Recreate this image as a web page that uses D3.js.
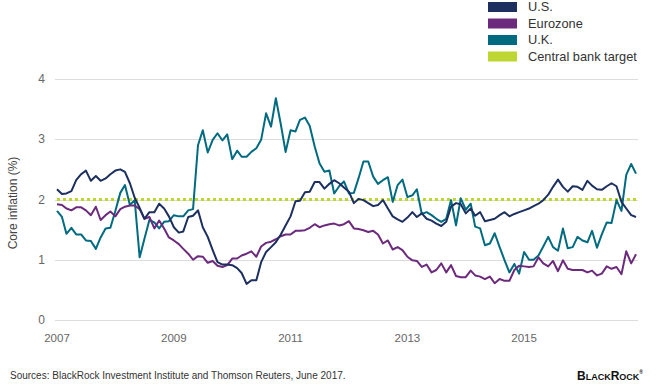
<!DOCTYPE html>
<meta charset="utf-8">
<style>
body { margin: 0; background: #fff; }
svg { font-family: "Liberation Sans", Arial, sans-serif; }
.grid line { stroke: #dcdcdc; stroke-width: 1px; }
.series { fill: none; stroke-width: 2px; stroke-linejoin: round; }
</style>
<body>
<script src="https://cdn.jsdelivr.net/npm/d3@7"></script>
<script>

// monthly core inflation, Jan 2007 - Dec 2016
var usValues = [2.17,2.09,2.1,2.14,2.32,2.42,2.48,2.31,2.39,2.31,2.35,2.42,2.48,2.5,2.46,2.27,2.03,1.86,1.68,1.79,
  1.79,1.93,1.85,1.72,1.54,1.45,1.47,1.71,1.73,1.82,1.54,1.38,1.16,0.96,0.92,0.92,0.91,0.86,0.78,0.6,
  0.66,0.66,0.96,1.13,1.21,1.29,1.42,1.57,1.72,1.97,1.98,2.12,2.13,2.29,2.29,2.18,2.26,2.32,2.27,2.2,
  2.13,1.94,2.01,1.99,1.94,1.89,1.91,1.99,1.85,1.72,1.67,1.63,1.7,1.79,1.71,1.77,1.68,1.65,1.6,1.56,
  1.63,1.88,1.94,1.92,1.77,1.85,1.73,1.79,1.64,1.66,1.68,1.74,1.79,1.72,1.76,1.79,1.82,1.85,1.89,1.93,
  1.99,2.08,2.21,2.33,2.21,2.13,2.22,2.21,2.16,2.31,2.23,2.17,2.16,2.22,2.27,2.22,1.96,1.85,1.74,1.71];

var euroValues = [1.92,1.91,1.85,1.82,1.87,1.87,1.82,1.74,1.88,1.66,1.74,1.8,1.72,1.84,1.88,1.9,1.9,1.84,1.68,1.71,
  1.52,1.65,1.52,1.37,1.32,1.26,1.18,1.1,1.0,1.06,1.05,0.95,0.98,0.9,0.88,0.91,1.02,1.02,1.07,1.1,
  1.14,1.05,1.22,1.28,1.3,1.34,1.39,1.42,1.42,1.48,1.48,1.49,1.53,1.59,1.54,1.57,1.59,1.6,1.57,1.59,
  1.64,1.52,1.51,1.49,1.46,1.48,1.42,1.27,1.32,1.17,1.21,1.16,1.05,0.99,0.98,0.88,0.92,0.79,0.83,0.94,
  0.79,0.91,0.73,0.71,0.71,0.82,0.74,0.72,0.68,0.72,0.61,0.68,0.65,0.65,0.83,0.9,0.89,0.88,0.89,1.04,
  0.94,0.89,0.98,0.81,0.99,0.85,0.83,0.83,0.83,0.79,0.82,0.74,0.77,0.89,0.85,0.88,0.76,1.14,0.94,1.09];

var ukValues = [1.81,1.71,1.43,1.53,1.42,1.42,1.32,1.31,1.18,1.37,1.52,1.53,1.81,2.11,2.24,1.91,1.99,1.04,1.35,1.66,
  1.62,1.52,1.63,1.64,1.74,1.72,1.72,1.82,1.84,2.9,3.15,2.78,2.99,3.1,2.98,3.08,2.67,2.81,2.71,2.71,
  2.79,2.85,2.99,3.43,3.21,3.68,3.25,2.79,3.15,3.13,3.32,3.36,3.22,2.88,2.6,2.46,2.48,2.1,2.22,2.3,
  2.1,2.11,2.35,2.63,2.63,2.38,2.26,2.32,2.37,1.96,2.24,2.33,2.04,2.07,2.17,1.76,1.79,1.74,1.68,1.63,
  1.68,1.99,1.57,2.02,1.83,1.93,1.55,1.52,1.24,1.27,1.44,1.21,0.99,0.79,0.93,0.77,1.13,1.0,1.0,1.07,
  1.22,1.38,1.21,1.15,1.52,1.19,1.21,1.38,1.32,1.29,1.48,1.2,1.42,1.62,1.61,1.99,1.81,2.41,2.59,2.43];

var targetValue = 2;
var yTicks = [0, 1, 2, 3, 4];
var xTickYears = [2007, 2009, 2011, 2013, 2015];

var seriesNames = ["U.S.", "Eurozone", "U.K."];
var seriesColors = ["#1c2f5e", "#6c2a7c", "#006b80"];
var targetName = "Central bank target";
var targetColor = "#bdd631";

var months = d3.timeMonths(new Date(2007, 0, 1), new Date(2017, 0, 1));

var width = 662, height = 385;

var svg = d3.select("body").append("svg")
    .attr("width", width)
    .attr("height", height);

var x = d3.scaleTime()
    .domain([months[0], months[months.length - 1]])
    .range([57, 636]);

var y = d3.scaleLinear()
    .domain([0, 4])
    .range([320, 79]);

// gridlines
svg.append("g")
    .attr("class", "grid")
  .selectAll("line")
  .data(yTicks)
  .enter().append("line")
    .attr("x1", 55)
    .attr("x2", 638)
    .attr("y1", function(d) { return Math.round(y(d)) + 0.5; })
    .attr("y2", function(d) { return Math.round(y(d)) + 0.5; });

// y tick labels
svg.append("g")
  .selectAll("text")
  .data(yTicks)
  .enter().append("text")
    .attr("x", 45)
    .attr("y", function(d) { return y(d); })
    .attr("dy", "0.35em")
    .attr("text-anchor", "end")
    .attr("fill", "#666")
    .style("font-size", "12px")
    .text(function(d) { return d; });

// x tick labels
svg.append("g")
  .selectAll("text")
  .data(xTickYears)
  .enter().append("text")
    .attr("x", function(d) { return x(new Date(d, 0, 1)); })
    .attr("y", 342)
    .attr("text-anchor", "middle")
    .attr("fill", "#666")
    .style("font-size", "11.5px")
    .text(function(d) { return d; });

// y axis title
svg.append("text")
    .attr("transform", "translate(17,203) rotate(-90)")
    .attr("text-anchor", "middle")
    .attr("fill", "#444")
    .style("font-size", "12px")
    .text("Core inflation (%)");

// target line
svg.append("line")
    .attr("x1", 57)
    .attr("x2", 638)
    .attr("y1", y(targetValue))
    .attr("y2", y(targetValue))
    .attr("stroke", targetColor)
    .attr("stroke-width", 3)
    .attr("stroke-dasharray", "3 3");

var line = d3.line()
    .x(function(d, i) { return x(months[i]); })
    .y(function(d) { return y(d); });

var allSeries = [usValues, euroValues, ukValues];

// draw U.K. under U.S. like the original
[2, 1, 0].forEach(function(k) {
  svg.append("path")
      .datum(allSeries[k])
      .attr("class", "series")
      .attr("stroke", seriesColors[k])
      .attr("d", line);
});

// legend
var legendItems = seriesNames.concat([targetName]);
var legendColors = seriesColors.concat([targetColor]);

var legend = svg.append("g")
  .selectAll("g")
  .data(legendItems)
  .enter().append("g")
    .attr("transform", function(d, i) { return "translate(488," + (2 + i * 16.5) + ")"; });

legend.append("rect")
    .attr("width", 29)
    .attr("height", 10)
    .attr("fill", function(d, i) { return legendColors[i]; });

legend.append("text")
    .attr("x", 40)
    .attr("y", 5)
    .attr("dy", "0.35em")
    .attr("fill", "#333")
    .style("font-size", "12.8px")
    .text(function(d) { return d; });

// source note
svg.append("text")
    .attr("x", 10)
    .attr("y", 379)
    .attr("fill", "#333")
    .style("font-size", "10px")
    .text("Sources: BlackRock Investment Institute and Thomson Reuters, June 2017.");

// logo
var logo = svg.append("text")
    .attr("x", 577)
    .attr("y", 380)
    .attr("fill", "#111")
    .style("font-weight", "bold");
logo.append("tspan").style("font-size", "12px").text("B");
logo.append("tspan").style("font-size", "9px").text("LACK");
logo.append("tspan").style("font-size", "12px").text("R");
logo.append("tspan").style("font-size", "9px").text("OCK");
logo.append("tspan").style("font-size", "5px").attr("dy", "-6").text("®");

</script>
</body>
